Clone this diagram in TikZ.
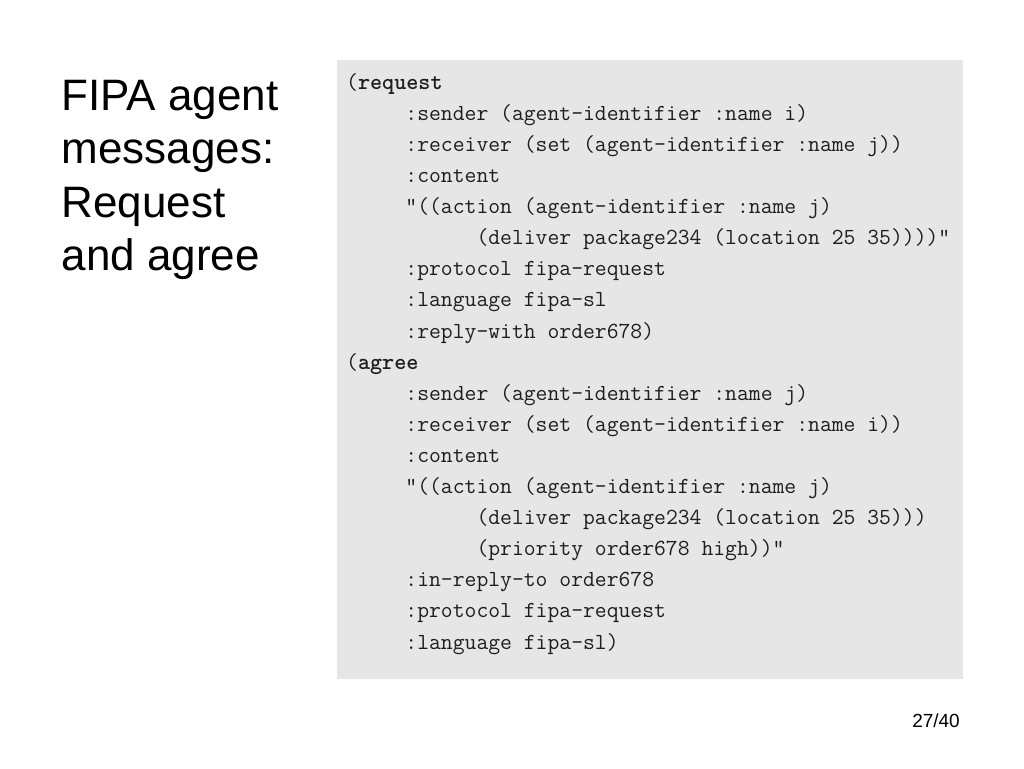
\documentclass[tikz,border=0pt]{standalone}
\usepackage{fontspec}
\setmainfont{Liberation Sans}
\usepackage{xcolor}
\usepackage{tikz}
\usetikzlibrary{matrix}
\definecolor{codebg}{RGB}{230,230,230}
\definecolor{codefg}{RGB}{30,30,30}
\newcommand{\tabA}{\phantom{00000}}
\newcommand{\tabB}{\phantom{00000000000}}

\begin{document}
\begin{tikzpicture}[x=1pt, y=-1pt, text=black]
	\useasboundingbox (0,0) rectangle (1024,768);
	\fill[white] (0,0) rectangle (1024,768);
	\fill[codebg] (337,60) rectangle (963,679);
	\node[anchor=north west, inner sep=0pt, align=left, font=\fontsize{44}{53.5}\selectfont] (title) at (61.5,80) {FIPA agent\\messages:\\Request\\and agree};
	\matrix(msg)[matrix of nodes, anchor=north west, inner sep=0pt, row sep=0pt, text=codefg, nodes={anchor=base west, inner sep=0pt, text height=21.1pt, text depth=10pt, font=\ttfamily\fontsize{23}{26}\selectfont}] at (346,67.9) {
		(\textbf{request}\\
		\tabA:sender (agent-identifier :name i)\\
		\tabA:receiver (set (agent-identifier :name j))\\
		\tabA:content\\
		\tabA"((action (agent-identifier :name j)\\
		\tabB(deliver package234 (location 25 35))))"\\
		\tabA:protocol fipa-request\\
		\tabA:language fipa-sl\\
		\tabA:reply-with order678)\\
		(\textbf{agree}\\
		\tabA:sender (agent-identifier :name j)\\
		\tabA:receiver (set (agent-identifier :name i))\\
		\tabA:content\\
		\tabA"((action (agent-identifier :name j)\\
		\tabB(deliver package234 (location 25 35)))\\
		\tabB(priority order678 high))"\\
		\tabA:in-reply-to order678\\
		\tabA:protocol fipa-request\\
		\tabA:language fipa-sl)\\
	};
	\node[anchor=base east, inner sep=0pt, font=\fontsize{19}{23}\selectfont] (page) at (960,727) {27/40};
\end{tikzpicture}
\end{document}
